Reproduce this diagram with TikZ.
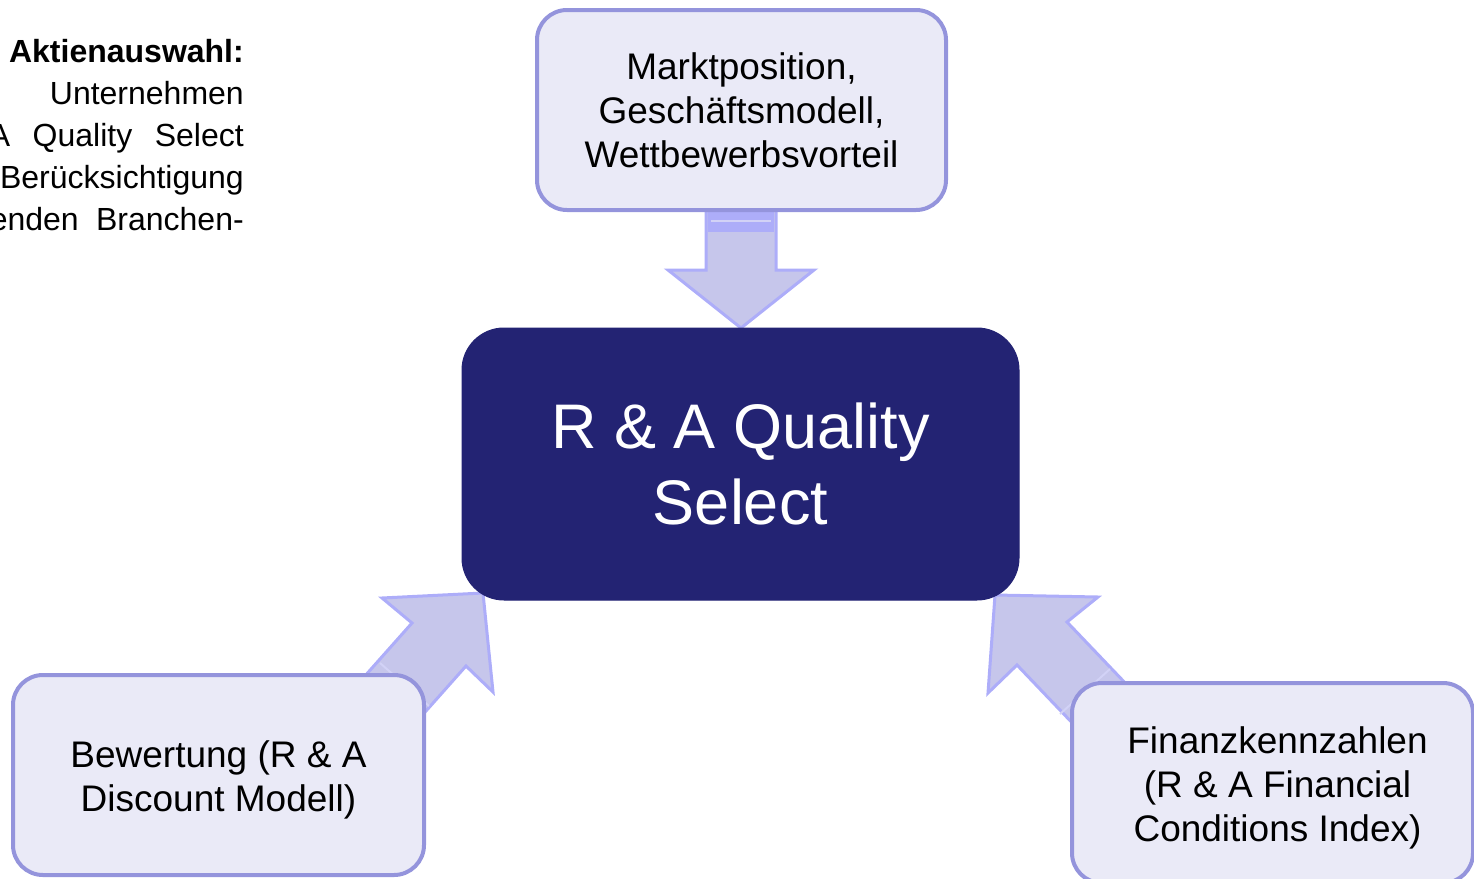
\documentclass[tikz,border=0pt]{standalone}
\usepackage{fontspec}
\setmainfont{Liberation Sans}
\definecolor{boxfill}{HTML}{EAEAF7}
\definecolor{boxline}{HTML}{9494DC}
\definecolor{navy}{HTML}{232373}
\definecolor{arrfill}{HTML}{C6C6EB}
\definecolor{arrline}{HTML}{ADADF9}
\definecolor{arrstripe}{HTML}{D2D2F6}
\tikzset{
  lbox/.style={draw=boxline, fill=boxfill, line width=4, rounded corners=30,
    inner sep=0},
  lbl/.style={align=center, inner sep=0, font=\fontsize{37}{44}\selectfont},
  cbox/.style={draw=navy, fill=navy, line width=1, rounded corners=42,
    align=center, inner sep=0, text=white, font=\fontsize{63}{76}\selectfont},
  blockarrow/.style={draw=arrline, fill=arrfill, line width=3, line join=miter},
  stripe/.style={draw=arrstripe, line width=2},
  sidetext/.style={anchor=base east, inner sep=0, font=\fontsize{32}{42}\selectfont}
}
\begin{document}
\begin{tikzpicture}[x=1pt, y=-1pt]
\useasboundingbox (0,0) rectangle (1474,878);
\clip (0,0) rectangle (1474,878);
% side text
\node[sidetext, font=\fontsize{32}{42}\selectfont\bfseries] (t1) at (244,62) {Aktienauswahl:};
\node[sidetext] (t2) at (244,104) {Unternehmen};
\node[sidetext] (t3) at (244,146) {\hbox to 255pt{A\hfill Quality\hfill Select}};
\node[sidetext] (t4) at (244,188) {Berücksichtigung};
\node[sidetext] (t5) at (244,230) {\hbox to 254pt{enden\hfill Branchen-}};
% block arrows
\path[blockarrow] (706,205) -- (776,205) -- (776,270) -- (814,270) -- (741,328) -- (668,270) -- (706,270) -- cycle;
\fill[arrline] (708,210) rectangle (774,232);
\draw[stripe] (711,221) -- (771,221);
\path[blockarrow] (483,593) -- (493,692) -- (466,666) -- (386,756) -- (332,713) -- (412,623) -- (382,598) -- cycle;
\draw[stripe] (380,663) -- (429,706);
\path[blockarrow] (995,595) -- (1098,597) -- (1067,622) -- (1150,709) -- (1100,752) -- (1017,665) -- (988,693) -- cycle;
\draw[stripe] (1110,669) -- (1060,714);
% boxes
\node[lbox, minimum width=409, minimum height=200] (top) at (741.5,110) {};
\node[lbl] (toptext) at (741.5,110) {Marktposition,\\Geschäftsmodell,\\Wettbewerbsvorteil};
\node[cbox, minimum width=557, minimum height=272] (center) at (740.5,464)
  {R \& A Quality\\Select};
\node[lbox, minimum width=411, minimum height=200] (left) at (218.5,775) {};
\node[lbl] (lefttext) at (218.5,780) {Bewertung (R \& A\\Discount Modell)};
\node[lbox, minimum width=401, minimum height=200] (right) at (1272.5,783) {};
\node[lbl] (righttext) at (1277.5,788) {Finanzkennzahlen\\(R \& A Financial\\Conditions Index)};
\end{tikzpicture}
\end{document}
